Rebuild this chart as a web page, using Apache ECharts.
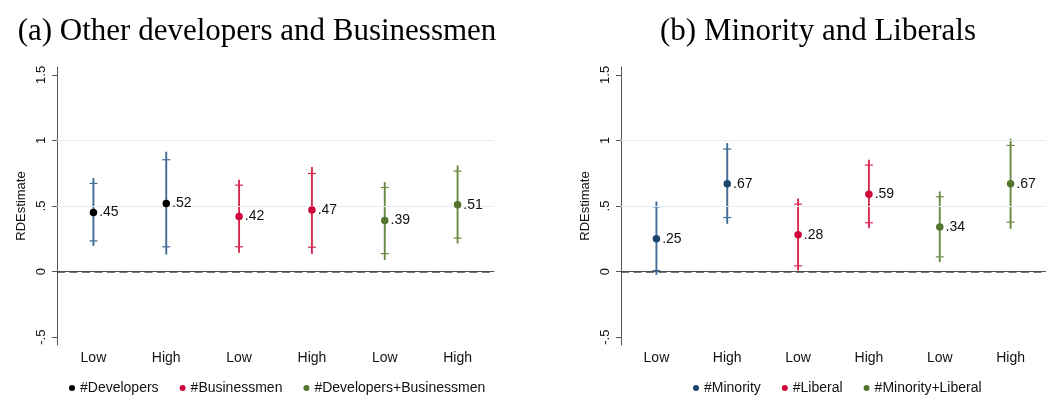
<!DOCTYPE html>
<html>
<head>
<meta charset="utf-8">
<script src="https://cdn.jsdelivr.net/npm/echarts@6/dist/echarts.min.js"></script>
<style>
  html, body { margin: 0; padding: 0; background: #fff; }
  #chart { width: 1046px; height: 396px; }
</style>
</head>
<body>
<div id="chart"></div>
<script>
// Category labels and y ticks (Stata-style labels without leading zero)
const categories = ['Low', 'High', 'Low', 'High', 'Low', 'High'];
const yTicks = [-0.5, 0, 0.5, 1, 1.5];
const yTickLabels = ['-.5', '0', '.5', '1', '1.5'];

// Panel (a): point estimates, 95% CI (line ends), 90% CI (caps)
const developersEst = [0.45, 0.52];
const developersCI95 = [[0.196, 0.713], [0.130, 0.914]];
const developersCI90 = [[0.234, 0.672], [0.189, 0.853]];

const businessmenEst = [0.42, 0.47];
const businessmenCI95 = [[0.143, 0.700], [0.135, 0.797]];
const businessmenCI90 = [[0.189, 0.659], [0.186, 0.748]];

const devBusEst = [0.39, 0.51];
const devBusCI95 = [[0.089, 0.682], [0.214, 0.809]];
const devBusCI90 = [[0.137, 0.641], [0.255, 0.766]];

// Panel (b)
const minorityEst = [0.25, 0.67];
const minorityCI95 = [[-0.025, 0.534], [0.364, 0.980]];
const minorityCI90 = [[0.008, 0.494], [0.412, 0.934]];

const liberalEst = [0.28, 0.59];
const liberalCI95 = [[0.008, 0.557], [0.331, 0.853]];
const liberalCI90 = [[0.043, 0.514], [0.372, 0.812]];

const minLibEst = [0.34, 0.67];
const minLibCI95 = [[0.072, 0.611], [0.326, 1.013]];
const minLibCI90 = [[0.112, 0.570], [0.377, 0.962]];

const NAVY_BAR = '#3f6b95', NAVY_DOT = '#1a476f';
const RED_BAR = '#d7284f', RED_DOT = '#cf0a3a';
const GREEN_BAR = '#698a42', GREEN_DOT = '#54752c';
const SANS = 'Liberation Sans, Arial, Helvetica, sans-serif';
const SERIF = '31px "Liberation Serif", "Times New Roman", serif';

function fmtStata(v) {
  const s = v.toFixed(2);
  return s.replace(/^0\./, '.').replace(/^-0\./, '-.');
}

// Vertical error bar: full line spans the 95% CI, small caps mark the 90% CI
function errorBarSeries(name, panel, offset, ci95, ci90, color) {
  return {
    type: 'custom',
    name: name + ' CI',
    xAxisIndex: panel, yAxisIndex: panel,
    z: 3,
    silent: true,
    data: ci95.map((c, i) => [offset + i, c[0], c[1], ci90[i][0], ci90[i][1]]),
    encode: { x: 0, y: [1, 2, 3, 4] },
    renderItem: function (params, api) {
      const x = api.value(0);
      const lo = api.coord([x, api.value(1)]);
      const hi = api.coord([x, api.value(2)]);
      const clo = api.coord([x, api.value(3)]);
      const chi = api.coord([x, api.value(4)]);
      const hw = 4;
      return {
        type: 'group',
        children: [
          { type: 'line', shape: { x1: lo[0], y1: lo[1], x2: hi[0], y2: hi[1] }, style: { stroke: color, lineWidth: 1.9 } },
          { type: 'line', shape: { x1: clo[0] - hw, y1: clo[1], x2: clo[0] + hw, y2: clo[1] }, style: { stroke: color, lineWidth: 1.2 } },
          { type: 'line', shape: { x1: chi[0] - hw, y1: chi[1], x2: chi[0] + hw, y2: chi[1] }, style: { stroke: color, lineWidth: 1.2 } }
        ]
      };
    }
  };
}

function pointSeries(name, panel, offset, est, color) {
  return {
    type: 'scatter',
    name: name,
    xAxisIndex: panel, yAxisIndex: panel,
    z: 5,
    symbol: 'circle',
    symbolSize: 7.5,
    itemStyle: { color: color, opacity: 1 },
    data: est.map((v, i) => [offset + i, v]),
    label: {
      show: true,
      position: 'right',
      distance: 2,
      color: '#111',
      fontFamily: SANS,
      fontSize: 14,
      formatter: p => fmtStata(p.value[1])
    }
  };
}

// Faint grid lines at .5 and 1, dashed reference line at zero
function refLines(panel) {
  return {
    type: 'line',
    name: 'ref' + panel,
    xAxisIndex: panel, yAxisIndex: panel,
    data: [],
    z: 1,
    silent: true,
    markLine: {
      silent: true,
      symbol: 'none',
      label: { show: false },
      data: [
        { yAxis: 0.5, lineStyle: { color: '#e4eef2', width: 1, type: 'solid' } },
        { yAxis: 1, lineStyle: { color: '#e4eef2', width: 1, type: 'solid' } },
        { yAxis: 0, lineStyle: { color: '#4a4a4a', width: 1.7, type: [8, 4.5] } }
      ]
    }
  };
}

function xAxis(panel) {
  return {
    type: 'category',
    gridIndex: panel,
    data: categories,
    boundaryGap: true,
    axisLine: { lineStyle: { color: '#555', width: 1 } },
    axisTick: { alignWithLabel: true, length: 5, lineStyle: { color: '#555' } },
    axisLabel: { color: '#111', fontFamily: SANS, fontSize: 14, margin: 6 },
    splitLine: { show: false }
  };
}

function yAxis(panel) {
  return {
    type: 'value',
    gridIndex: panel,
    min: -0.56, max: 1.56,
    name: 'RDEstimate',
    nameLocation: 'middle',
    nameRotate: 90,
    nameGap: 29,
    nameTextStyle: { color: '#111', fontFamily: SANS, fontSize: 13 },
    axisLine: { show: true, lineStyle: { color: '#555', width: 1 } },
    axisTick: { show: true, length: 5, customValues: yTicks, lineStyle: { color: '#555' } },
    axisLabel: {
      customValues: yTicks,
      rotate: 90,
      margin: 9,
      color: '#111',
      fontFamily: SANS,
      fontSize: 13,
      formatter: v => yTickLabels[yTicks.findIndex(t => Math.abs(t - v) < 1e-9)]
    },
    splitLine: { show: false }
  };
}

const chart = echarts.init(document.getElementById('chart'), null, { renderer: 'canvas' });

chart.setOption({
  backgroundColor: '#fff',
  animation: false,
  graphic: [
    { type: 'text', x: 257, y: 32, style: { text: '(a) Other developers and Businessmen', font: SERIF, fill: '#000', textAlign: 'center', textVerticalAlign: 'middle' } },
    { type: 'text', x: 818, y: 32, style: { text: '(b) Minority and Liberals', font: SERIF, fill: '#000', textAlign: 'center', textVerticalAlign: 'middle' } }
  ],
  grid: [
    { left: 57, right: 552, top: 67, bottom: 51, containLabel: false },
    { left: 621, right: -10, top: 67, bottom: 51, containLabel: false }
  ],
  xAxis: [xAxis(0), xAxis(1)],
  yAxis: [yAxis(0), yAxis(1)],
  legend: [
    {
      left: 64, top: 376,
      itemWidth: 6, itemHeight: 6, itemGap: 21,
      icon: 'circle',
      textStyle: { color: '#111', fontFamily: SANS, fontSize: 14 },
      data: ['#Developers', '#Businessmen', '#Developers+Businessmen']
    },
    {
      left: 688, top: 376,
      itemWidth: 6, itemHeight: 6, itemGap: 21,
      icon: 'circle',
      textStyle: { color: '#111', fontFamily: SANS, fontSize: 14 },
      data: ['#Minority', '#Liberal', '#Minority+Liberal']
    }
  ],
  series: [
    refLines(0),
    refLines(1),
    errorBarSeries('#Developers', 0, 0, developersCI95, developersCI90, NAVY_BAR),
    errorBarSeries('#Businessmen', 0, 2, businessmenCI95, businessmenCI90, RED_BAR),
    errorBarSeries('#Developers+Businessmen', 0, 4, devBusCI95, devBusCI90, GREEN_BAR),
    pointSeries('#Developers', 0, 0, developersEst, '#000'),
    pointSeries('#Businessmen', 0, 2, businessmenEst, RED_DOT),
    pointSeries('#Developers+Businessmen', 0, 4, devBusEst, GREEN_DOT),
    errorBarSeries('#Minority', 1, 0, minorityCI95, minorityCI90, NAVY_BAR),
    errorBarSeries('#Liberal', 1, 2, liberalCI95, liberalCI90, RED_BAR),
    errorBarSeries('#Minority+Liberal', 1, 4, minLibCI95, minLibCI90, GREEN_BAR),
    pointSeries('#Minority', 1, 0, minorityEst, NAVY_DOT),
    pointSeries('#Liberal', 1, 2, liberalEst, RED_DOT),
    pointSeries('#Minority+Liberal', 1, 4, minLibEst, GREEN_DOT)
  ]
});
</script>
</body>
</html>
